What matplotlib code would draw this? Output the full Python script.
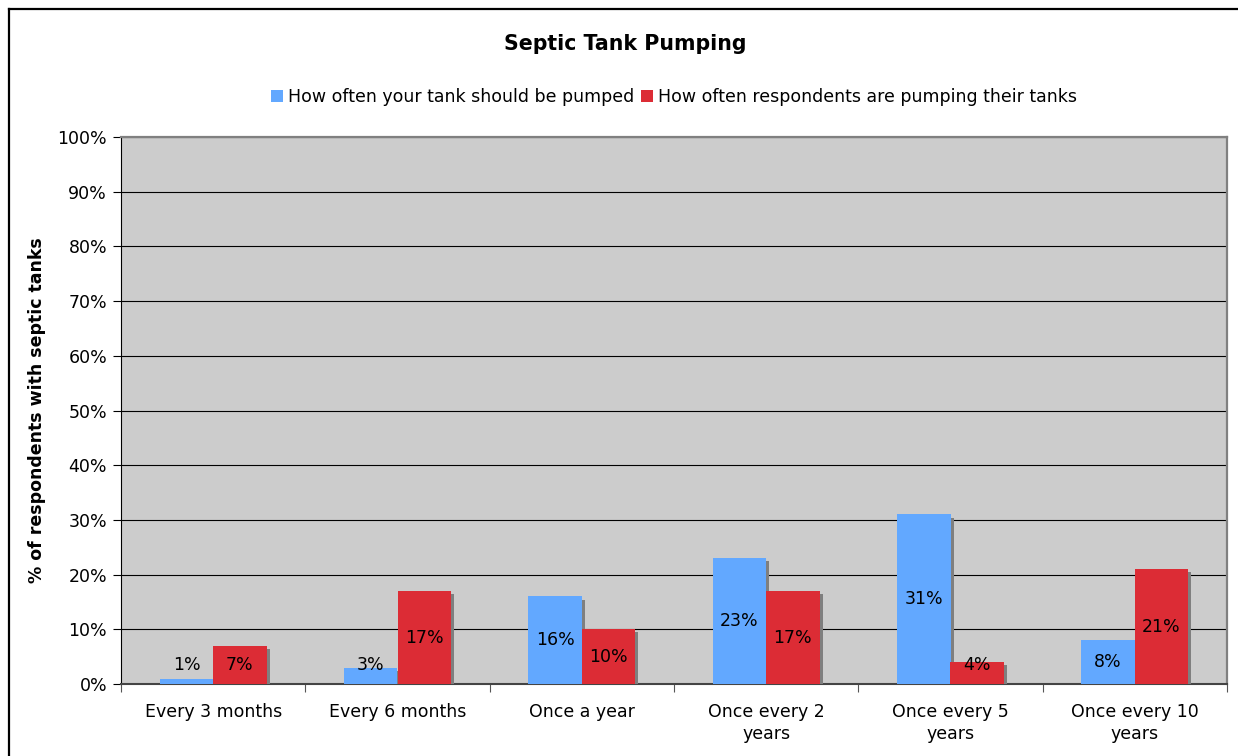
import matplotlib
matplotlib.use("Agg")
import matplotlib.pyplot as plt
import matplotlib.patheffects as pe
from matplotlib.patches import Patch
import numpy as np

plt.rcParams['font.family'] = ['DejaVu Sans']

categories = ["Every 3 months", "Every 6 months", "Once a year",
              "Once every 2\nyears", "Once every 5\nyears", "Once every 10\nyears"]
should_be = [1, 3, 16, 23, 31, 8]
actual = [7, 17, 10, 17, 4, 21]
series_names = ["How often your tank should be pumped",
                "How often respondents are pumping their tanks"]
yticks = list(range(0, 101, 10))

blue = "#62A8FF"
red = "#DC2C35"

fig = plt.figure(figsize=(12.38, 7.56), dpi=100)
fig.patch.set_facecolor("white")
# outer chart frame (top and left edges visible)
fig.add_artist(plt.Line2D([8.5 / 1238, 8.5 / 1238], [0, 1 - 8.5 / 756], color="black", lw=1.6,
                          transform=fig.transFigure))
fig.add_artist(plt.Line2D([8.5 / 1238, 1], [1 - 8.5 / 756, 1 - 8.5 / 756], color="black", lw=1.6,
                          transform=fig.transFigure))

ax = fig.add_axes([121 / 1238, 1 - 684 / 756, (1227 - 121) / 1238, (684 - 137) / 756])
ax.set_facecolor("#CCCCCC")

x = np.arange(len(categories)) + 0.5
w = 0.29
shadow = [pe.SimplePatchShadow(offset=(2.3, -2.3), shadow_rgbFace="#7F7F7F", alpha=1.0), pe.Normal()]
b1 = ax.bar(x - w / 2, should_be, w, color=blue, zorder=3)
b2 = ax.bar(x + w / 2, actual, w, color=red, zorder=3)
for bars in (b1, b2):
    for b in bars:
        b.set_path_effects(shadow)

for xs, vals in ((x - w / 2, should_be), (x + w / 2, actual)):
    for xi, v in zip(xs, vals):
        ax.text(xi, max(v / 2, 3.4), f"{v}%", ha="center", va="center",
                fontsize=12.5, color="black", zorder=5)

ax.set_xlim(0, len(categories))
ax.set_ylim(0, 100)
ax.set_yticks(yticks)
ax.set_yticklabels([f"{t}%" for t in yticks], fontsize=12.5)
ax.yaxis.grid(True, color="black", lw=0.8, zorder=1)
ax.set_axisbelow(True)

ax.set_xticks(np.arange(len(categories) + 1))
ax.set_xticklabels([])
ax.set_xticks(x, minor=True)
ax.set_xticklabels(categories, minor=True, fontsize=12.5, linespacing=1.25)
ax.tick_params(axis="x", which="minor", length=0, pad=14)
ax.tick_params(axis="x", which="major", length=6, color="#555555")
ax.tick_params(axis="y", length=6, color="black", pad=4)

ax.spines["left"].set_color("black")
ax.spines["bottom"].set_color("#444444")
ax.spines["bottom"].set_linewidth(1.5)
ax.spines["top"].set_color("#808080")
ax.spines["top"].set_linewidth(1.6)
ax.spines["right"].set_color("#808080")
ax.spines["right"].set_linewidth(1.6)

ax.set_ylabel("% of respondents with septic tanks", fontsize=12.5, fontweight="bold", labelpad=8)

fig.text(0.5 + 6 / 1238, 1 - 44 / 756, "Septic Tank Pumping", ha="center", va="center",
         fontsize=14.8, fontweight="bold")
handles = [Patch(facecolor=blue), Patch(facecolor=red)]
fig.legend(handles=handles, labels=series_names, loc="center", ncol=2,
           bbox_to_anchor=(674 / 1238, 1 - 97 / 756), frameon=False, fontsize=12.5,
           handlelength=0.7, handleheight=0.7, handletextpad=0.3, columnspacing=0.4)

fig.savefig("out.png", dpi=100)
